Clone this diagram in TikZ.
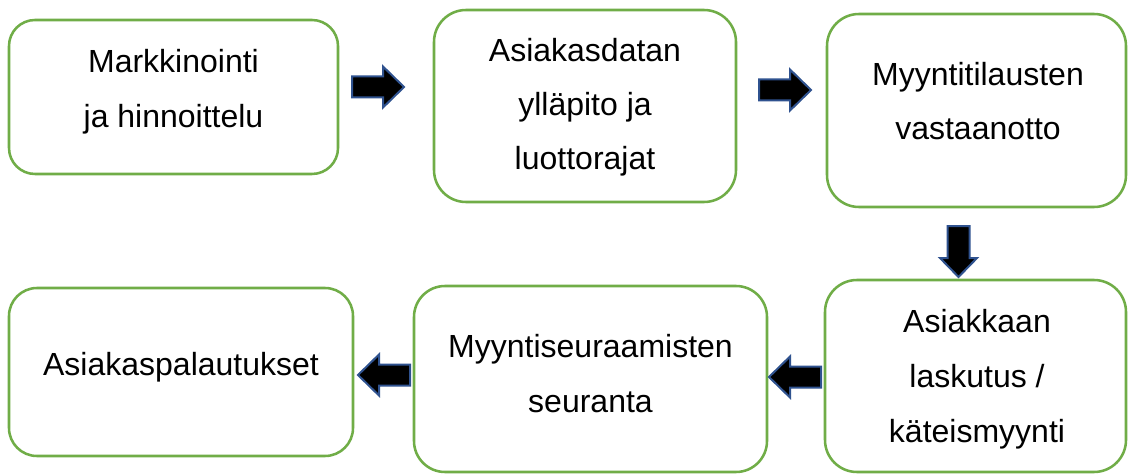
\documentclass[tikz,border=0pt]{standalone}
\usepackage{fontspec}
\setmainfont{Liberation Sans}
\definecolor{boxgreen}{HTML}{70AD47}
\definecolor{arrowblue}{HTML}{2F528F}
\tikzset{
  stepbox/.style={draw=boxgreen, line width=1.9pt, fill=white, rectangle, inner sep=0pt},
  txt/.style={font=\fontsize{24}{28}\selectfont, inner sep=0pt, anchor=base, text=black},
  blockarrow/.style={fill=black, draw=arrowblue, line width=1.5pt, line join=miter},
  % horizontal block arrow, tail at the origin, pointing along +x
  rarrow/.pic={\filldraw[blockarrow] (0,-10.5) -- (31,-10.5) -- (31,-20.5) -- (52,0)
      -- (31,20.5) -- (31,10.5) -- (0,10.5) -- cycle;},
  % vertical block arrow, tail at the origin, pointing down the page
  darrow/.pic={\filldraw[blockarrow] (-11,0) -- (-11,32) -- (-18.5,32) -- (0,51)
      -- (18.5,32) -- (11,32) -- (11,0) -- cycle;}
}
\begin{document}
\begin{tikzpicture}[x=0.75pt, y=-0.75pt]
  % canvas
  \path[use as bounding box, fill=white] (0,0) rectangle (1128,474);

  % process boxes
  \node[stepbox, minimum width=246.75pt, minimum height=115.5pt, rounded corners=19.5pt] (b1) at (173.5,97) {};
  \node[stepbox, minimum width=226.5pt, minimum height=144pt, rounded corners=24pt] (b2) at (585,106) {};
  \node[stepbox, minimum width=224.25pt, minimum height=144.75pt, rounded corners=24pt] (b3) at (976.5,110.5) {};
  \node[stepbox, minimum width=225.75pt, minimum height=144pt, rounded corners=24pt] (b4) at (975.5,376) {};
  \node[stepbox, minimum width=264.75pt, minimum height=139.5pt, rounded corners=23.25pt] (b5) at (590.5,379) {};
  \node[stepbox, minimum width=258pt, minimum height=126pt, rounded corners=21pt] (b6) at (181,372) {};

  % box texts
  \node[txt] (t1a) at (b1.center |- 0,73) {Markkinointi};
  \node[txt] (t1b) at (b1.center |- 0,128) {ja hinnoittelu};

  \node[txt] (t2a) at (b2.center |- 0,62) {Asiakasdatan};
  \node[txt] (t2b) at (b2.center |- 0,116) {ylläpito ja};
  \node[txt] (t2c) at (b2.center |- 0,170) {luottorajat};

  \node[txt] (t3a) at (978,86) {Myyntitilausten};
  \node[txt] (t3b) at (978,140) {vastaanotto};

  \node[txt] (t4a) at (977,332) {Asiakkaan};
  \node[txt] (t4b) at (977,387) {laskutus /};
  \node[txt] (t4c) at (977,442) {käteismyynti};

  \node[txt] (t5a) at (b5.center |- 0,357) {Myyntiseuraamisten};
  \node[txt] (t5b) at (b5.center |- 0,412) {seuranta};

  \node[txt] (t6a) at (b6.center |- 0,375) {Asiakaspalautukset};

  % flow arrows
  \pic at (352,87) {rarrow};
  \pic at (759,90) {rarrow};
  \pic at (958.5,226) {darrow};
  \pic[xscale=-1] at (821,377) {rarrow};
  \pic[xscale=-1] at (410,375) {rarrow};
\end{tikzpicture}
\end{document}
